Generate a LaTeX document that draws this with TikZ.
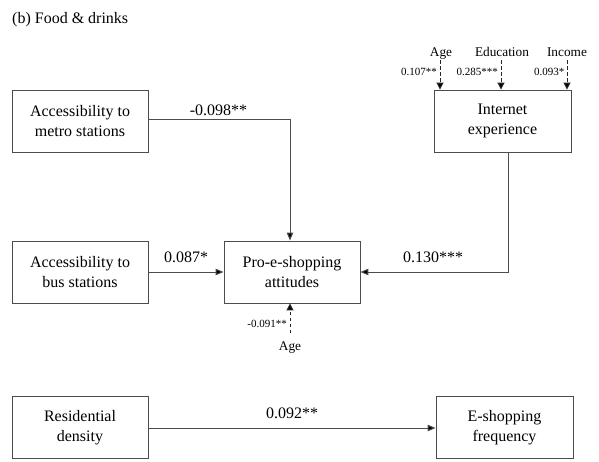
\documentclass[tikz,border=0pt]{standalone}
\usepackage{fontspec}
\setmainfont{Liberation Serif}
\usetikzlibrary{arrows.meta}
\begin{document}
\begin{tikzpicture}[x=1pt,y=-1pt,
  box/.style={draw=black!70,line width=0.9pt,minimum width=136pt,minimum height=62pt,
    align=center,font=\fontsize{16}{20}\selectfont,inner sep=2pt},
  conn/.style={draw=black!70,line width=1pt,-{Triangle[length=8pt,width=6.5pt,fill=black]}},
  dconn/.style={draw=black!85,line width=1pt,dash pattern=on 3.5pt off 2.5pt,-{Triangle[length=7pt,width=7pt,fill=black]}},
  coef/.style={font=\fontsize{16}{18}\selectfont,inner sep=0pt},
  small/.style={font=\fontsize{11}{13}\selectfont,inner sep=0pt},
  ctrl/.style={font=\fontsize{13.3}{15}\selectfont,inner sep=0pt}]
\useasboundingbox (0,0) rectangle (599,461);

\node[anchor=base west,font=\fontsize{16}{18}\selectfont,inner sep=0pt] (title) at (12,23) {(b) Food \& drinks};

% boxes
\node[box] (metro) at (80,121) {Accessibility to\\metro stations};
\node[box] (bus) at (80,272) {Accessibility to\\bus stations};
\node[box] (pro) at (292,272) {Pro-e-shopping\\attitudes};
\node[box,minimum width=137pt] (inet) at (502.5,121) {Internet\\experience};
\node[box] (res) at (80,427.5) {Residential\\density};
\node[box,minimum width=137pt] (freq) at (504.5,427.5) {E-shopping\\frequency};

% paths into the attitudes box
\coordinate (mcorner) at (290,119);
\draw[conn] (metro.east |- mcorner) -- (mcorner) -- (mcorner |- pro.north);
\node[coef,anchor=base] (lm) at (218.5,115) {-0.098**};

\draw[conn] (bus.east) -- (pro.west);
\node[coef,anchor=base] (lb) at (186,262) {0.087*};

\coordinate (itop) at (508,152);
\coordinate (icorner) at (508,272);
\draw[conn] (itop) -- (icorner) -- (pro.east);
\node[coef,anchor=base] (li) at (433,262) {0.130***};

\draw[conn] (res.east |- 0,428) -- (freq.west |- 0,428);
\node[coef,anchor=base] (lr) at (292,418) {0.092**};

% control variables of internet experience
\node[ctrl,anchor=base] (age1) at (441,56) {Age};
\node[ctrl,anchor=base] (edu) at (502,56) {Education};
\node[ctrl,anchor=base] (inc) at (567,56) {Income};
\coordinate (a1) at (440,60);
\coordinate (a2) at (501,60);
\coordinate (a3) at (567,60);
\draw[dconn] (a1) -- (a1 |- inet.north);
\draw[dconn] (a2) -- (a2 |- inet.north);
\draw[dconn] (a3) -- (a3 |- inet.north);
\node[small,anchor=base east] (c1) at (437,75) {0.107**};
\node[small,anchor=base east] (c2) at (498,75) {0.285***};
\node[small,anchor=base east] (c3) at (564.5,75) {0.093*};

% control variable of attitudes
\coordinate (a4) at (290,333);
\node[ctrl,anchor=base] (age2) at (290,350) {Age};
\draw[dconn] (a4) -- (a4 |- pro.south);
\node[small,anchor=base east] (c4) at (287,327) {-0.091**};
\end{tikzpicture}
\end{document}
